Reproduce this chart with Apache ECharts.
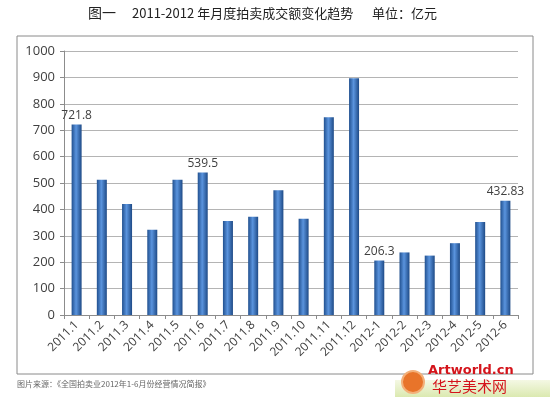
<!DOCTYPE html>
<html>
<head>
<meta charset="utf-8">
<script src="https://cdn.jsdelivr.net/npm/echarts@6/dist/echarts.min.js"></script>
<style>
  html, body { margin: 0; padding: 0; background: #fff; }
  #main { width: 550px; height: 397px; }
</style>
</head>
<body>
<div id="main"></div>
<script>
  // 月份
  var months = ['2011.1', '2011.2', '2011.3', '2011.4', '2011.5', '2011.6', '2011.7', '2011.8', '2011.9',
    '2011.10', '2011.11', '2011.12', '2012-1', '2012-2', '2012-3', '2012-4', '2012-5', '2012-6'];
  // 成交额（亿元）
  var amounts = [721.8, 512, 420, 323, 512, 539.5, 356, 372, 473, 365, 749, 897, 206.3, 237, 225, 272, 352, 432.83];
  // 需要标数值的月份
  var labeled = ['2011.1', '2011.6', '2012-1', '2012-6'];
  var yTicks = [0, 1000, 100];

  var chart = echarts.init(document.getElementById('main'));

  // 蓝色柱子，中间亮两边暗
  var barColor = new echarts.graphic.LinearGradient(0, 0, 1, 0, [
    { offset: 0, color: '#21508f' },
    { offset: 0.45, color: '#5a94de' },
    { offset: 1, color: '#1e4a86' }
  ]);

  var barData = amounts.map(function (v, i) {
    var item = { value: v };
    if (labeled.indexOf(months[i]) >= 0) {
      item.label = { show: true, position: 'top', distance: 3 };
    }
    return item;
  });

  var titleFont = { fontFamily: 'Noto Sans CJK SC', fontSize: 13, fill: '#222' };

  var option = {
    backgroundColor: '#fff',
    animation: false,
    grid: { left: 64, right: 32, top: 51, bottom: 82 },
    xAxis: {
      type: 'category',
      data: months,
      axisLine: { lineStyle: { color: '#8c8c8c' } },
      axisTick: { show: true, alignWithLabel: false, length: 4, lineStyle: { color: '#8c8c8c' } },
      axisLabel: {
        rotate: 45, interval: 0, margin: 8,
        fontFamily: 'Open Sans', fontSize: 12, color: '#404040'
      }
    },
    yAxis: {
      type: 'value',
      min: yTicks[0], max: yTicks[1], interval: yTicks[2],
      axisLine: { show: true, lineStyle: { color: '#8c8c8c' } },
      axisTick: { show: true, length: 4, lineStyle: { color: '#8c8c8c' } },
      axisLabel: {
        fontFamily: 'Open Sans', fontSize: 13, color: '#404040', margin: 9,
        formatter: function (v) { return String(v); }
      },
      splitLine: { lineStyle: { color: '#b4b4b4' } }
    },
    series: [{
      type: 'bar',
      data: barData,
      barWidth: 10,
      itemStyle: { color: barColor },
      label: { show: false, fontFamily: 'Open Sans', fontSize: 12, color: '#404040' }
    }],
    graphic: [
      // 标题（分三段摆放）
      { type: 'text', left: 88, top: 6, style: Object.assign({}, titleFont, { text: '图一', fontSize: 14 }) },
      { type: 'text', left: 132, top: 7, style: Object.assign({}, titleFont, { text: '2011-2012 年月度拍卖成交额变化趋势' }) },
      { type: 'text', left: 372, top: 7, style: Object.assign({}, titleFont, { text: '单位：亿元' }) },
      // 外框
      { type: 'rect', shape: { x: 17, y: 36, width: 516, height: 338 }, style: { fill: 'none', stroke: '#8a8a8a', lineWidth: 1 }, silent: true },
      // 来源
      { type: 'text', left: 17, top: 380, style: { text: '图片来源：《全国拍卖业2012年1-6月份经营情况简报》', fontFamily: 'Noto Sans CJK SC', fontSize: 8, fill: '#666' } },
      // 水印
      { type: 'rect', shape: { x: 395, y: 380, width: 155, height: 17 }, style: { fill: new echarts.graphic.LinearGradient(0, 0, 0, 1, [{ offset: 0, color: '#f4f8e4' }, { offset: 1, color: '#dbe9b0' }]) }, silent: true },
      { type: 'circle', shape: { cx: 413, cy: 382, r: 11 }, style: { fill: '#e8742a', stroke: '#f3b07a', lineWidth: 2 }, silent: true },
      { type: 'text', left: 428, top: 364, style: { text: 'Artworld.cn', fontFamily: 'DejaVu Sans', fontWeight: 'bold', fontSize: 13, fill: '#d4141b' } },
      { type: 'text', left: 432, top: 379, style: { text: '华艺美术网', fontFamily: 'Noto Sans CJK SC', fontSize: 15, fill: '#d4141b' } }
    ]
  };

  chart.setOption(option);
</script>
</body>
</html>
